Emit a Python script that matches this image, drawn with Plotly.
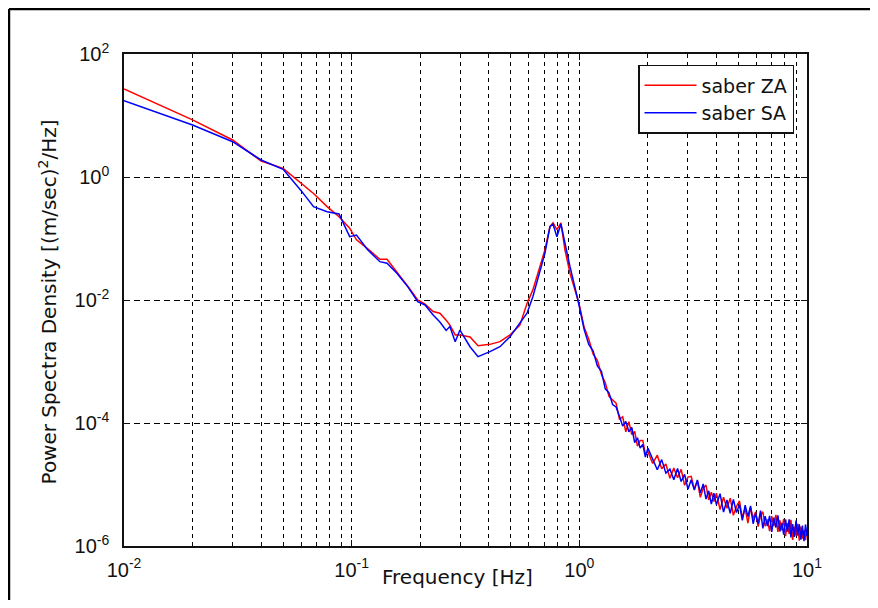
import plotly.graph_objects as go

# ---------------- data ----------------
freq = [0.010, 0.015, 0.020, 0.030, 0.040, 0.050, 0.055, 0.060, 0.068, 0.078,
        0.088, 0.098, 0.105, 0.117, 0.133, 0.143, 0.158, 0.177, 0.195, 0.210,
        0.228, 0.244, 0.260, 0.270, 0.285, 0.299, 0.331, 0.359, 0.405, 0.448,
        0.496, 0.548, 0.589, 0.625, 0.671, 0.706, 0.743, 0.766, 0.797, 0.830,
        0.865, 0.910, 0.986,
        1.00, 1.05, 1.10, 1.15, 1.20, 1.25, 1.30, 1.35, 1.40, 1.45,
        1.50, 1.55, 1.60, 1.65, 1.70, 1.75, 1.80, 1.85, 1.90, 1.95,
        2.00, 2.10, 2.20, 2.30, 2.40, 2.50, 2.60, 2.70, 2.80, 2.90,
        3.00, 3.10, 3.20, 3.30, 3.40, 3.50, 3.60, 3.70, 3.80, 3.90,
        4.00, 4.15, 4.30, 4.45, 4.60, 4.75, 4.90, 5.05, 5.20, 5.35,
        5.50, 5.65, 5.80, 5.95, 6.10, 6.25, 6.40, 6.55, 6.70, 6.85,
        7.00, 7.15, 7.30, 7.45, 7.60, 7.75, 7.90, 8.05, 8.20, 8.35,
        8.50, 8.65, 8.80, 8.95, 9.10, 9.25, 9.40, 9.55, 9.70, 9.85, 10.0]

psd_za = [27.0, 13.6, 8.5, 4.0, 1.82, 1.38, 1.04, 0.78, 0.54, 0.33,
          0.226, 0.147, 0.095, 0.069, 0.046, 0.046, 0.0288, 0.0164, 0.0100, 0.0086,
          0.0065, 0.0061, 0.0047, 0.0039, 0.0027, 0.0027, 0.0025, 0.0018, 0.0019, 0.0021,
          0.0027, 0.0039, 0.0088, 0.0146, 0.0348, 0.065, 0.156, 0.180, 0.139, 0.180,
          0.065, 0.0272, 0.010,
          8.3e-3, 3.6e-3, 2.3e-3, 1.32e-3, 1.05e-3, 6.2e-4, 4.5e-4, 2.7e-4, 2.4e-4, 2.1e-4,
          1.16e-4, 1.26e-4, 7.2e-5, 1.05e-4, 6.5e-5, 7.3e-5, 4.2e-5, 5.2e-5, 5.2e-5, 3.1e-5,
          3.4e-5, 2.2e-5, 3.0e-5, 1.8e-5, 2.16e-5, 1.26e-5, 1.86e-5, 1.29e-5, 1.76e-5, 9.7e-6,
          1.32e-5, 1.36e-5, 8.4e-6, 1.15e-5, 6.2e-6, 8.6e-6, 9.8e-6, 5.6e-6, 7.5e-6, 5.3e-6,
          7.2e-6, 3.9e-6, 6.2e-6, 4.1e-6, 6.0e-6, 3.16e-6, 4.4e-6, 5.4e-6, 2.85e-6, 4.1e-6,
          2.35e-6, 4.2e-6, 2.8e-6, 3.6e-6, 2.07e-6, 3.16e-6, 3.6e-6, 2.1e-6, 2.7e-6, 1.74e-6,
          3.05e-6, 2.1e-6, 3.2e-6, 1.7e-6, 2.6e-6, 1.8e-6, 2.75e-6, 1.45e-6, 2.35e-6, 1.57e-6,
          2.66e-6, 1.26e-6, 2.07e-6, 1.48e-6, 2.3e-6, 1.22e-6, 2.07e-6, 1.32e-6, 1.82e-6, 1.25e-6, 1.9e-6]

psd_sa = [17.4, 10.2, 7.0, 3.75, 1.89, 1.33, 0.89, 0.60, 0.33, 0.273,
          0.251, 0.107, 0.114, 0.0667, 0.042, 0.0396, 0.0272, 0.0162, 0.0094, 0.0083,
          0.0057, 0.0044, 0.0032, 0.0037, 0.0021, 0.00325, 0.00174, 0.0012, 0.00145, 0.00174,
          0.00253, 0.0042, 0.0061, 0.0113, 0.0288, 0.0575, 0.156, 0.172, 0.107, 0.172,
          0.0836, 0.0348, 0.010,
          7.6e-3, 3.3e-3, 1.9e-3, 1.48e-3, 8.5e-4, 6.9e-4, 3.6e-4, 3.1e-4, 2.0e-4, 1.82e-4,
          1.29e-4, 8.9e-5, 1.06e-4, 7.2e-5, 8.5e-5, 4.8e-5, 5.75e-5, 3.9e-5, 4.5e-5, 2.8e-5,
          3.9e-5, 2.5e-5, 1.74e-5, 2.54e-5, 1.53e-5, 1.78e-5, 1.19e-5, 1.82e-5, 1.12e-5, 1.46e-5,
          8.4e-6, 1.19e-5, 8.1e-6, 1.19e-5, 7.3e-6, 1.02e-5, 5.8e-6, 7.9e-6, 4.8e-6, 7.2e-6,
          4.7e-6, 7.1e-6, 3.55e-6, 5.6e-6, 3.4e-6, 5.7e-6, 3.5e-6, 4.7e-6, 2.6e-6, 4.6e-6,
          3.0e-6, 4.5e-6, 2.3e-6, 3.4e-6, 2.3e-6, 3.76e-6, 1.93e-6, 3.05e-6, 2.1e-6, 3.1e-6,
          1.7e-6, 2.9e-6, 2.0e-6, 3.16e-6, 1.72e-6, 2.37e-6, 1.53e-6, 2.7e-6, 1.72e-6, 2.72e-6,
          1.38e-6, 2.26e-6, 1.41e-6, 2.6e-6, 1.48e-6, 2.26e-6, 1.27e-6, 2.14e-6, 1.2e-6, 2.24e-6, 1.45e-6]

series_names = ["saber ZA", "saber SA"]

x_tickvals = [0.01, 0.1, 1, 10]
x_ticktext = ["10<sup>-2</sup>", "10<sup>-1</sup>", "10<sup>0</sup>", "10<sup>1</sup>"]
x_minor = [0.02, 0.03, 0.04, 0.05, 0.06, 0.07, 0.08, 0.09,
           0.2, 0.3, 0.4, 0.5, 0.6, 0.7, 0.8, 0.9,
           2, 3, 4, 5, 6, 7, 8, 9]
y_tickvals = [1e-6, 1e-4, 1e-2, 1, 1e2]
y_ticktext = ["10<sup>-6</sup>", "10<sup>-4</sup>", "10<sup>-2</sup>", "10<sup>0</sup>", "10<sup>2</sup>"]

x_title = "Frequency [Hz]"
y_title = "Power Spectra Density [(m/sec)<sup>2</sup>/Hz]"

# ---------------- figure ----------------
FONT = "DejaVu Sans, Liberation Sans, Arial, sans-serif"
TICKFONT = "Liberation Sans, Arial, sans-serif"

fig = go.Figure()
fig.add_trace(go.Scatter(x=freq, y=psd_za, mode="lines", name=series_names[0],
                         line=dict(color="#ff0000", width=1.5)))
fig.add_trace(go.Scatter(x=freq, y=psd_sa, mode="lines", name=series_names[1],
                         line=dict(color="#0000ff", width=1.5)))

axis_common = dict(
    showline=True, linecolor="#111111", linewidth=1.5, mirror="ticks",
    ticks="inside", ticklen=6, tickcolor="#111111", tickwidth=1,
    tickfont=dict(family=TICKFONT, size=20, color="#111111"),
    zeroline=False, showgrid=True, gridcolor="#000000", gridwidth=1,
)

fig.update_xaxes(
    type="log", range=[-2, 1], tickmode="array", tickvals=x_tickvals, ticktext=x_ticktext,
    griddash="4px,4px", ticklabelstandoff=5,
    minor=dict(tickmode="array", tickvals=x_minor, showgrid=True, gridcolor="#000000",
               gridwidth=1, griddash="4px,4px", ticks="inside", ticklen=4,
               tickcolor="#111111"),
    **axis_common,
)
fig.update_yaxes(
    type="log", range=[-6, 2], tickmode="array", tickvals=y_tickvals, ticktext=y_ticktext,
    griddash="6px,4px", ticklabelstandoff=9,
    **axis_common,
)

# axis titles as annotations (placed like the original)
fig.add_annotation(text=x_title, xref="paper", yref="paper", x=0.489, y=-0.063,
                   xanchor="center", yanchor="middle", showarrow=False,
                   font=dict(family=FONT, size=20, color="#111111"))
fig.add_annotation(text=y_title, xref="paper", yref="paper", x=-0.112, y=0.496,
                   xanchor="center", yanchor="middle", textangle=-90, showarrow=False,
                   font=dict(family=FONT, size=20, color="#111111"))

# outer frame (left and top black edges of the figure window)
fig.add_shape(type="line", xref="paper", yref="paper", x0=-0.1684, x1=-0.1684, y0=-0.2, y1=1.0915,
              line=dict(color="#000000", width=2.5))
fig.add_shape(type="line", xref="paper", yref="paper", x0=-0.1684, x1=1.2, y0=1.0915, y1=1.0915,
              line=dict(color="#000000", width=2.5))

# the page body adds an 8px offset, so the figure is 870x592 placed at (8,8)
fig.update_layout(
    width=870, height=592,
    margin=dict(l=116, r=71, t=46, b=54, autoexpand=False),
    paper_bgcolor="#ffffff", plot_bgcolor="#ffffff",
    font=dict(family=FONT, color="#111111"),
    showlegend=True,
    legend=dict(x=0.981, xanchor="right", y=0.978, yanchor="top",
                bgcolor="#ffffff", bordercolor="#111111", borderwidth=1.5,
                font=dict(family=FONT, size=19, color="#111111"),
                itemwidth=52, tracegroupgap=0),
)

fig.write_html("out.html")
